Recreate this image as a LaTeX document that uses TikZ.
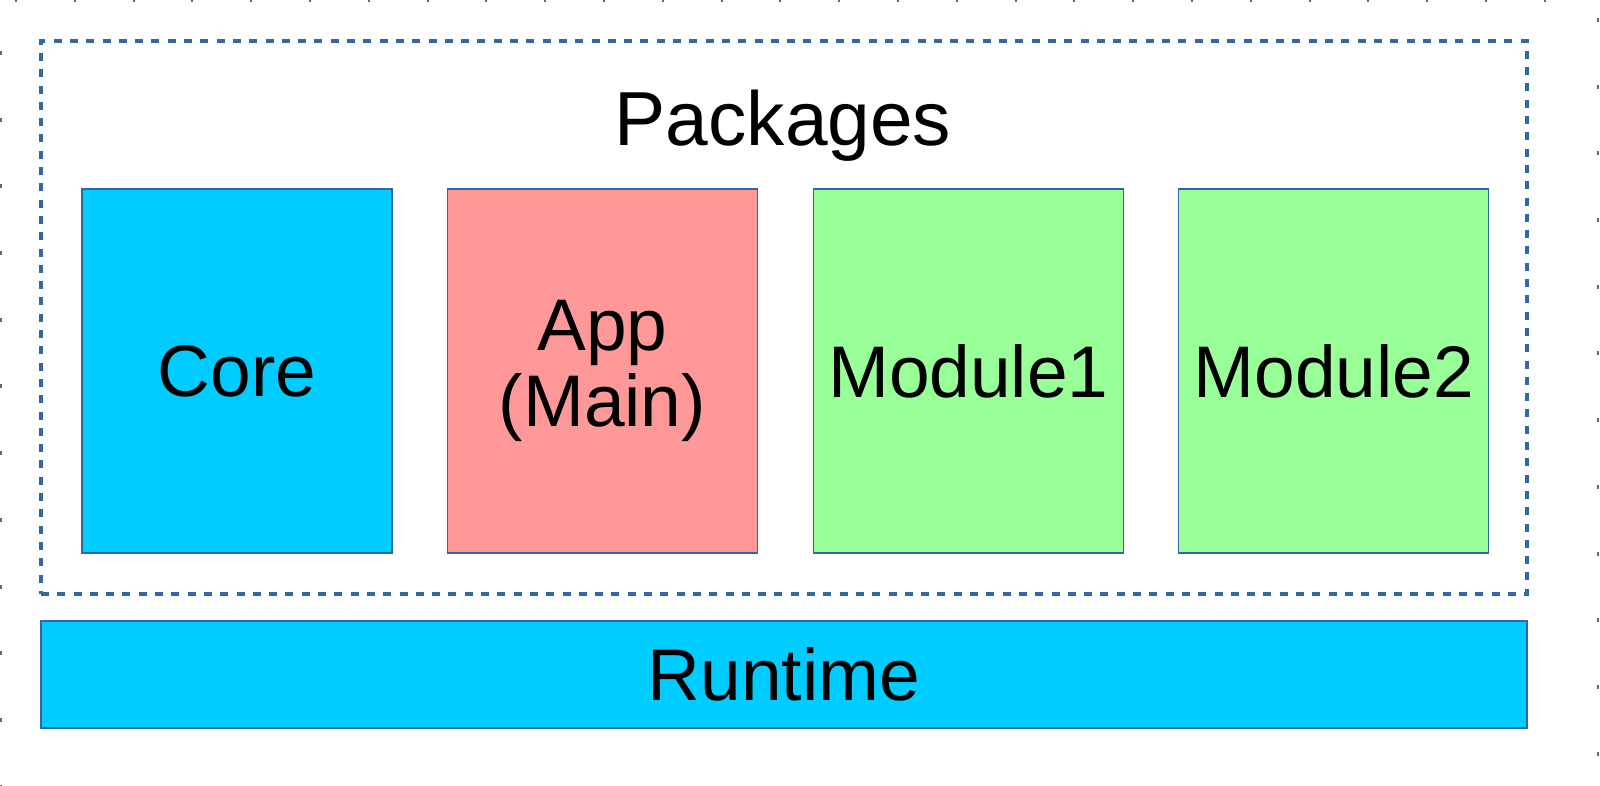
\documentclass[tikz,border=0pt]{standalone}
\usepackage{fontspec}
\setmainfont{Liberation Sans}
\usetikzlibrary{positioning}

\definecolor{pkgborder}{HTML}{3465A4}
\definecolor{corefill}{HTML}{00CCFF}
\definecolor{appfill}{HTML}{FF9999}
\definecolor{modfill}{HTML}{99FF99}

\tikzset{
    pkgbox/.style={draw=pkgborder, line width=0.4pt, minimum width=3.10cm, minimum height=3.64cm,
        inner sep=0pt, align=center, font=\fontsize{20.8}{21.6}\selectfont},
    tick/.style={fill=black!60}
}

\begin{document}
\begin{tikzpicture}
    \useasboundingbox (0, 0) rectangle (16, 7.86);
    % packages frame
    \node[draw=pkgborder, line width=1.3pt, dash pattern=on 0.08cm off 0.083cm,
        minimum width=14.86cm, minimum height=5.53cm, inner sep=0pt] (frame) at (7.84, 4.685) {};
    \node[font=\fontsize{21.8}{22}\selectfont] (pkgs) at (7.83, 6.60) {Packages};
    % the four packages
    \node[pkgbox, fill=corefill] (core) at (2.37, 4.15) {Core};
    \node[pkgbox, fill=appfill, right=0.54 of core] (app) {App\\(Main)};
    \node[pkgbox, fill=modfill, right=0.545 of app] (mod1) {Module1};
    \node[pkgbox, fill=modfill, right=0.54 of mod1] (mod2) {Module2};
    % runtime
    \node[pkgbox, fill=corefill, minimum width=14.86cm, minimum height=1.07cm] (runtime) at (7.84, 1.115) {Runtime};
    % ruler ticks on the edges
    \foreach \k in {0,...,26}
        \path[tick] (0.15 + 0.588*\k, 7.86) rectangle ++(0.02, -0.025);
    \foreach \k in {0,...,11} {
        \path[tick] (0, 7.35 - 0.667*\k) rectangle ++(0.02, -0.04);
        \path[tick] (15.97, 7.68 - 0.667*\k) rectangle ++(0.02, -0.04);
    }
\end{tikzpicture}
\end{document}
